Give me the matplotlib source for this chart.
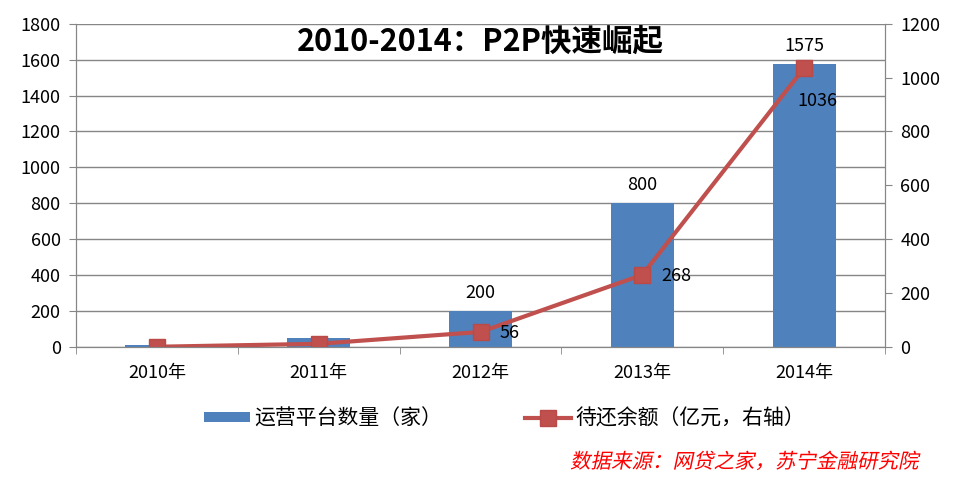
import matplotlib.pyplot as plt
import numpy as np
from matplotlib.textpath import TextPath
from matplotlib.patches import PathPatch
from matplotlib.font_manager import FontProperties
from matplotlib.transforms import Affine2D

plt.rcParams['font.family'] = ['Noto Sans CJK SC', 'DejaVu Sans']

years = ['2010年', '2011年', '2012年', '2013年', '2014年']
platforms = [10, 50, 200, 800, 1575]
balance = [1, 12, 56, 268, 1036]
bar_labels = ['', '', '200', '800', '1575']
line_labels = ['', '', '56', '268', '1036']
# where each line label sits: right of the marker, or below it
line_label_pos = ['right', 'right', 'right', 'right', 'below']

fig = plt.figure(figsize=(9.61, 4.84), dpi=100)
ax = fig.add_axes([0.079, 0.283, 0.842, 0.668])
ax2 = ax.twinx()

x = np.arange(len(years))
bars = ax.bar(x, platforms, width=0.39, color='#4f81bd', zorder=2)
ax.set_xlim(-0.5, len(years) - 0.5)
ax.set_ylim(0, 1800)
ax.set_yticks(np.arange(0, 1801, 200))
ax.yaxis.grid(True, color='#868686', linewidth=1, zorder=0)
ax.set_axisbelow(True)
ax.set_xticks(x)
ax.set_xticklabels(years, fontsize=13)
ax.set_xticks(np.arange(-0.5, len(years)), minor=True)
ax.tick_params(axis='x', which='major', length=0, pad=12)
ax.tick_params(axis='x', which='minor', length=5, color='#868686')
ax.tick_params(axis='y', labelsize=13, length=5, color='#868686', pad=6)

for rect, lab in zip(bars, bar_labels):
    if lab:
        ax.text(rect.get_x() + rect.get_width() / 2, rect.get_height() + 50, lab,
                ha='center', va='bottom', fontsize=13)

line, = ax2.plot(x, balance, color='#c0504d', linewidth=3, marker='s', markersize=11,
                 markerfacecolor='#c0504d', markeredgecolor='#b94a47')
ax2.set_ylim(0, 1200)
ax2.set_yticks(np.arange(0, 1201, 200))
ax2.tick_params(axis='y', labelsize=13, length=5, color='#868686', pad=6)

for xi, yi, lab, pos in zip(x, balance, line_labels, line_label_pos):
    if not lab:
        continue
    if pos == 'right':
        ax2.text(xi + 0.12, yi - 5, lab, ha='left', va='center', fontsize=13)
    else:
        ax2.text(xi + 0.08, yi - 90, lab, ha='center', va='top', fontsize=13)

for a in (ax, ax2):
    a.spines['top'].set_visible(False)
    a.spines['left'].set_color('#868686')
    a.spines['right'].set_color('#868686')
    a.spines['bottom'].set_color('#868686')

ax.text(0.5, 0.94, '2010-2014：P2P快速崛起', transform=ax.transAxes, fontsize=22,
        fontweight='bold', ha='center', va='center')

fig.legend([bars, line], ['运营平台数量（家）', '待还余额（亿元，右轴）'],
           loc='center', bbox_to_anchor=(0.525, 0.135), ncol=2, frameon=False,
           fontsize=15, handlelength=2.2, handleheight=0.4, handletextpad=0.2,
           columnspacing=4.0)

# source note, slanted like an italic (CJK font has no italic face)
src = '数据来源：网贷之家，苏宁金融研究院'
fp = FontProperties(family='Noto Sans CJK SC', size=20.5)
tp = TextPath((0, 0), src, prop=fp)
tw = tp.get_extents().width
src_path = tp.transformed(Affine2D().skew_deg(12, 0).translate(920 - tw - 3, 484 - 468))
fig.patches.append(PathPatch(src_path, transform=None, color='red', lw=0))

fig.savefig('out.png', dpi=100)
